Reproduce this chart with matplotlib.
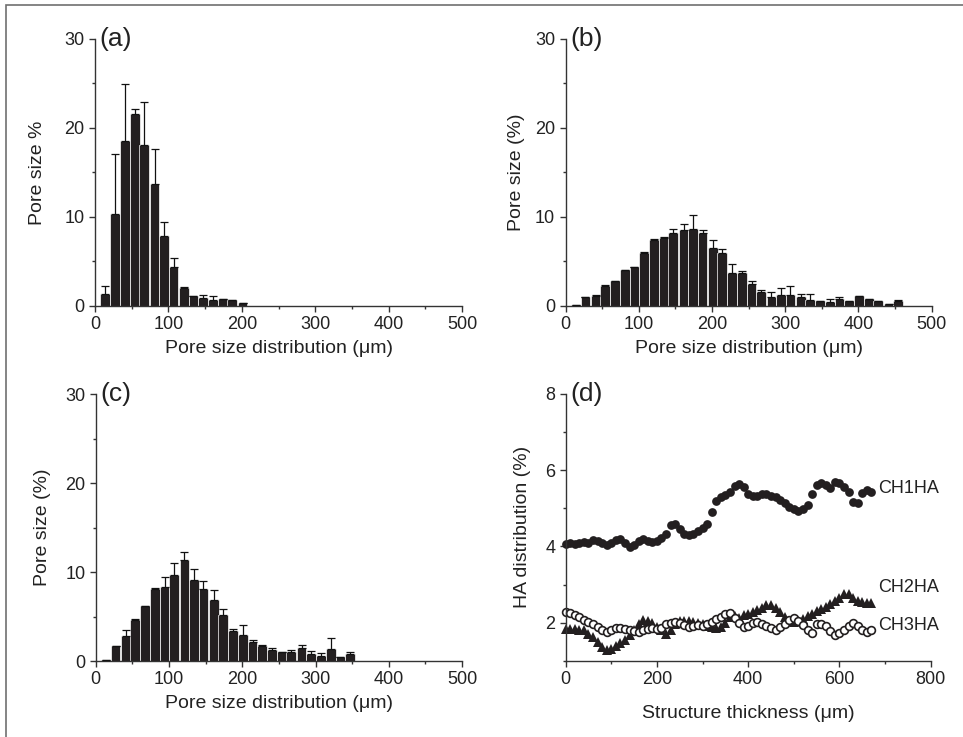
import numpy as np
import matplotlib
matplotlib.use('Agg')
import matplotlib.pyplot as plt
from matplotlib.patches import Rectangle
from matplotlib.ticker import MultipleLocator

plt.rcParams['font.family'] = ['Liberation Sans', 'DejaVu Sans']

# bin centres (um) of the pore size histograms
bins_a = [14, 27, 41, 54, 67, 81, 94, 107, 121, 134, 147, 161, 174, 187, 201]
size_a = [1.3, 10.3, 18.5, 21.6, 18.1, 13.7, 7.8, 4.35, 1.95, 1.05, 0.86, 0.64, 0.71, 0.6, 0.3]
err_a = [0.9, 6.8, 6.4, 0.5, 4.8, 3.9, 1.6, 1.05, 0.1, 0.05, 0.3, 0.4, 0.05, 0.0, 0.0]

bins_b = [14, 27, 41, 54, 67, 81, 94, 107, 121, 134, 147, 161, 174, 187, 201, 214, 227,
          241, 254, 267, 281, 294, 307, 321, 334, 347, 361, 374, 387, 401, 414, 427, 441, 454]
size_b = [0.05, 0.94, 1.13, 2.26, 2.78, 3.98, 4.36, 5.98, 7.4, 7.56, 8.16, 8.53, 8.65, 8.2,
          6.54, 5.98, 3.68, 3.68, 2.44, 1.54, 1.02, 1.24, 1.17, 0.98, 0.64, 0.49, 0.41, 0.75,
          0.49, 1.05, 0.79, 0.49, 0.19, 0.56]
err_b = [0, 0.04, 0.05, 0.05, 0.05, 0.05, 0.0, 0.05, 0.15, 0.18, 0.44, 0.64, 1.5, 0.37,
         0.9, 0.45, 0.98, 0.19, 0.3, 0.23, 0.48, 0.71, 1.01, 0.3, 0.64, 0.0, 0.3, 0.19,
         0, 0, 0, 0, 0, 0.05]

bins_c = [14, 27, 41, 54, 67, 81, 94, 107, 121, 134, 147, 161, 174, 187, 201, 214, 227,
          241, 254, 267, 281, 294, 307, 321, 334, 347]
size_c = [0.07, 1.7, 2.85, 4.65, 6.19, 8.13, 8.32, 9.66, 11.35, 9.1, 8.13, 6.85, 5.16, 3.4,
          2.96, 2.13, 1.72, 1.27, 1.05, 1.0, 1.5, 0.79, 0.52, 1.39, 0.41, 0.79]
err_c = [0, 0, 0.64, 0.07, 0, 0.1, 1.12, 1.31, 0.85, 1.2, 0.9, 1.15, 0.72, 0.16, 1.04, 0.23,
         0.04, 0.19, 0, 0.24, 0.3, 0.37, 0.42, 1.23, 0.04, 0.18]

# HA distribution along the structure thickness (um)
thickness = [0, 10, 20, 30, 40, 50, 60, 70, 80, 90, 100, 110, 120, 130, 140, 150, 160, 170,
             180, 190, 200, 210, 220, 230, 240, 250, 260, 270, 280, 290, 300, 310, 320, 330,
             340, 350, 360, 370, 380, 390, 400, 410, 420, 430, 440, 450, 460, 470, 480, 490,
             500, 510, 520, 530, 540, 550, 560, 570, 580, 590, 600, 610, 620, 630, 640, 650,
             660, 670]
ch1ha = [4.07, 4.08, 4.06, 4.09, 4.12, 4.10, 4.16, 4.13, 4.08, 4.04, 4.10, 4.17, 4.20, 4.10,
         3.98, 4.05, 4.15, 4.19, 4.14, 4.11, 4.15, 4.22, 4.32, 4.55, 4.58, 4.45, 4.32, 4.29,
         4.33, 4.40, 4.48, 4.60, 4.90, 5.18, 5.30, 5.34, 5.42, 5.58, 5.64, 5.55, 5.38, 5.31,
         5.33, 5.37, 5.38, 5.33, 5.29, 5.22, 5.13, 5.04, 4.97, 4.94, 4.99, 5.08, 5.38, 5.60,
         5.66, 5.62, 5.53, 5.68, 5.66, 5.57, 5.42, 5.17, 5.13, 5.40, 5.49, 5.43]
ch2ha = [1.83, 1.83, 1.83, 1.82, 1.80, 1.72, 1.62, 1.50, 1.38, 1.30, 1.32, 1.40, 1.48, 1.56,
         1.68, 1.82, 1.98, 2.07, 2.04, 1.99, 1.90, 1.80, 1.72, 1.82, 1.98, 2.06, 2.05, 2.04,
         2.03, 2.00, 1.96, 1.93, 1.90, 1.86, 1.88, 2.00, 2.14, 2.18, 2.12, 2.20, 2.24, 2.28,
         2.34, 2.40, 2.46, 2.46, 2.38, 2.28, 2.16, 2.06, 2.02, 2.04, 2.10, 2.18, 2.24, 2.30,
         2.36, 2.42, 2.48, 2.56, 2.66, 2.76, 2.76, 2.64, 2.56, 2.54, 2.52, 2.52]
ch3ha = [2.29, 2.25, 2.20, 2.14, 2.08, 2.02, 1.96, 1.90, 1.82, 1.76, 1.82, 1.86, 1.86, 1.84,
         1.81, 1.79, 1.77, 1.80, 1.85, 1.87, 1.84, 1.86, 1.96, 2.00, 2.03, 2.00, 1.94, 1.90,
         1.92, 1.94, 1.92, 1.96, 2.02, 2.10, 2.16, 2.22, 2.25, 2.12, 2.00, 1.88, 1.92, 2.00,
         2.01, 1.96, 1.92, 1.86, 1.82, 1.90, 1.98, 2.08, 2.12, 2.04, 1.94, 1.80, 1.74, 1.98,
         1.96, 1.92, 1.78, 1.68, 1.74, 1.82, 1.92, 2.00, 1.92, 1.82, 1.77, 1.80]

BAR = '#231f20'
BIN_W = 13.3


def style_axes(ax, xmax, xmajor, ymin, ymax, ymajor):
    for s in ('top', 'right'):
        ax.spines[s].set_visible(False)
    for s in ('left', 'bottom'):
        ax.spines[s].set_linewidth(1.0)
        ax.spines[s].set_color('#333333')
    ax.set_xlim(0, xmax)
    ax.set_ylim(ymin, ymax)
    ax.xaxis.set_major_locator(MultipleLocator(xmajor))
    ax.xaxis.set_minor_locator(MultipleLocator(xmajor / 2))
    ax.yaxis.set_major_locator(MultipleLocator(ymajor))
    ax.yaxis.set_minor_locator(MultipleLocator(ymajor / 2))
    ax.tick_params(which='major', direction='out', length=4, width=1, labelsize=13,
                   color='#333333', labelcolor='#222222')
    ax.tick_params(which='minor', direction='out', length=2.5, width=1, color='#333333')


def histogram(ax, bins, sizes, errs, ylabel, tag, ypad):
    ax.bar(bins, sizes, width=BIN_W, color=BAR, edgecolor='white', linewidth=0.5, zorder=2)
    ax.errorbar(bins, sizes, yerr=[np.zeros(len(errs)), errs], fmt='none', ecolor='#111111',
                elinewidth=0.9, capsize=3, capthick=0.9, zorder=3)
    style_axes(ax, 500, 100, 0, 30, 10)
    ax.set_xlabel('Pore size distribution (\u03bcm)', fontsize=14, color='#222222', labelpad=5)
    ax.set_ylabel(ylabel, fontsize=14, color='#222222', labelpad=ypad)
    ax.text(0.013, 1.0, tag, transform=ax.transAxes, fontsize=19, va='center', ha='left',
            color='#222222')


fig = plt.figure(figsize=(9.63, 7.37), dpi=100)
fig.patches.append(Rectangle((6 / 963, -0.01), 1.0, 1.01 - 5 / 737, transform=fig.transFigure,
                             fill=False, edgecolor='#6f6f6f', linewidth=1.2))

ax_a = fig.add_axes([0.0987, 0.5852, 0.3811, 0.3619])
ax_b = fig.add_axes([0.5874, 0.5852, 0.3801, 0.3619])
ax_c = fig.add_axes([0.0994, 0.1031, 0.3804, 0.3623])
ax_d = fig.add_axes([0.5874, 0.1031, 0.3791, 0.3627])

histogram(ax_a, bins_a, size_a, err_a, 'Pore size %', '(a)', 13)
histogram(ax_b, bins_b, size_b, err_b, 'Pore size (%)', '(b)', 7)
histogram(ax_c, bins_c, size_c, err_c, 'Pore size (%)', '(c)', 10)

ax_d.plot(thickness, ch1ha, 'o', color=BAR, markersize=6.3, markeredgewidth=0, clip_on=False)
ax_d.plot(thickness, ch2ha, '^', color=BAR, markersize=7, markeredgewidth=0, clip_on=False)
ax_d.plot(thickness, ch3ha, 'o', markerfacecolor='white', markeredgecolor=BAR, markersize=5.6,
          markeredgewidth=1.2, clip_on=False)
style_axes(ax_d, 800, 200, 1, 8, 2)
ax_d.yaxis.set_major_locator(MultipleLocator(2))
ax_d.yaxis.set_minor_locator(MultipleLocator(1))
ax_d.set_xlabel('Structure thickness (\u03bcm)', fontsize=14, color='#222222', labelpad=12)
ax_d.set_ylabel('HA distribution (%)', fontsize=14, color='#222222', labelpad=10)
ax_d.text(0.013, 1.0, '(d)', transform=ax_d.transAxes, fontsize=19, va='center', ha='left',
          color='#222222')
for name, yv in (('CH1HA', 5.52), ('CH2HA', 2.93), ('CH3HA', 1.93)):
    ax_d.text(684, yv, name, fontsize=13, va='center', ha='left', color='#222222')

fig.savefig('out.png', dpi=100)
